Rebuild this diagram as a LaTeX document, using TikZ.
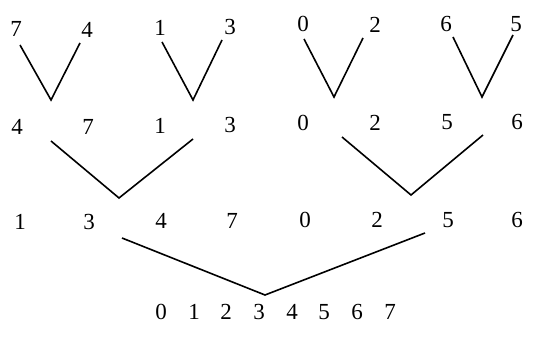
\documentclass[tikz,border=0pt]{standalone}
\usepackage{fontspec}
\setmainfont{Liberation Serif}
\usepackage{tikz}

\begin{document}
\begin{tikzpicture}[x=1pt, y=-1pt,
  key/.style={inner sep=0pt, font=\fontsize{23}{27}\selectfont},
  merge/.style={line width=1.6pt, line join=miter}
]
\useasboundingbox (0,0) rectangle (559,344);
% input pairs
\node[key] (a1) at (16,29) {7};
\node[key] (a2) at (87,30) {4};
\node[key] (a3) at (160,28) {1};
\node[key] (a4) at (230,27) {3};
\node[key] (a5) at (303,24) {0};
\node[key] (a6) at (375,25) {2};
\node[key] (a7) at (446,24) {6};
\node[key] (a8) at (516,24) {5};
% sorted pairs
\node[key] (b1) at (17,127) {4};
\node[key] (b2) at (88,127) {7};
\node[key] (b3) at (160,126) {1};
\node[key] (b4) at (230,125) {3};
\node[key] (b5) at (303,123) {0};
\node[key] (b6) at (375,123) {2};
\node[key] (b7) at (447,122) {5};
\node[key] (b8) at (517,122) {6};
% sorted halves
\node[key] (c1) at (20,222) {1};
\node[key] (c2) at (89,222) {3};
\node[key] (c3) at (161,221) {4};
\node[key] (c4) at (232,221) {7};
\node[key] (c5) at (305,220) {0};
\node[key] (c6) at (377,220) {2};
\node[key] (c7) at (448,220) {5};
\node[key] (c8) at (517,220) {6};
% result
\node[key] (d0) at (161,312) {0};
\node[key] (d1) at (194,312) {1};
\node[key] (d2) at (226,312) {2};
\node[key] (d3) at (259,312) {3};
\node[key] (d4) at (292,312) {4};
\node[key] (d5) at (324,312) {5};
\node[key] (d6) at (357,312) {6};
\node[key] (d7) at (390,312) {7};

% merge points
\coordinate (m1) at (51,100);
\coordinate (m2) at (193,100);
\coordinate (m3) at (334,97);
\coordinate (m4) at (482,97);
\coordinate (n1) at (51,141);
\coordinate (n2) at (193,139);
\coordinate (n3) at (342,137);
\coordinate (n4) at (483,135);
\coordinate (h1) at (119,198);
\coordinate (h2) at (411,195);
\coordinate (k1) at (122,238);
\coordinate (k2) at (425,233);
\coordinate (w) at (265,295);

\draw[merge] (20,45) -- (m1) -- (80,43);
\draw[merge] (162,42) -- (m2) -- (222,40);
\draw[merge] (304,39) -- (m3) -- (363,38);
\draw[merge] (453,37) -- (m4) -- (513,35);
\draw[merge] (n1) -- (h1) -- (n2);
\draw[merge] (n3) -- (h2) -- (n4);
\draw[merge] (k1) -- (w) -- (k2);
\end{tikzpicture}
\end{document}
